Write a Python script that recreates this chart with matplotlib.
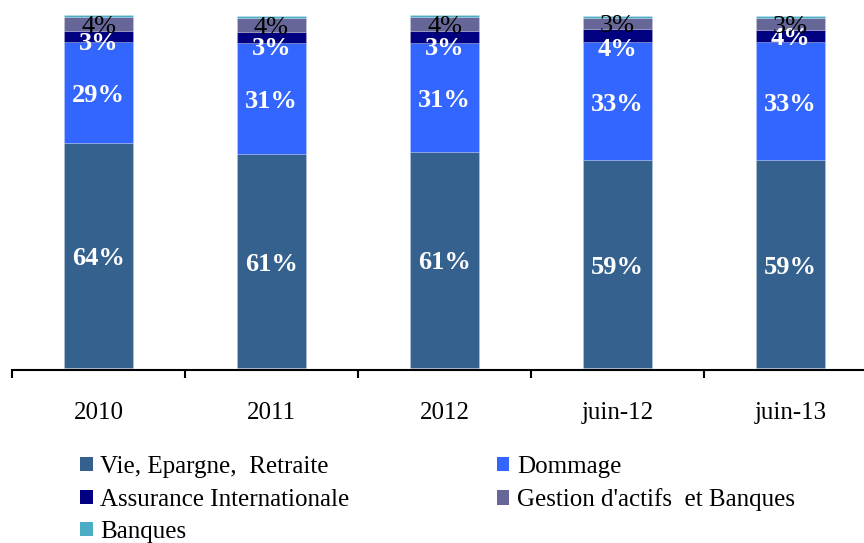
import matplotlib
matplotlib.use("Agg")
import matplotlib.pyplot as plt
from matplotlib.patches import Patch
import numpy as np

categories = ["2010", "2011", "2012", "juin-12", "juin-13"]
vie = [63.7, 60.7, 61.4, 59.0, 59.0]
dommage = [28.7, 31.4, 30.9, 33.4, 33.4]
assurance_int = [3.2, 3.2, 3.3, 3.7, 3.6]
gestion = [3.9, 4.0, 4.0, 3.3, 3.4]
banques = [0.5, 0.5, 0.5, 0.5, 0.5]

series_names = ["Vie, Epargne,  Retraite", "Dommage", "Assurance Internationale",
                "Gestion d'actifs  et Banques", "Banques"]
colors = ["#35618F", "#3366FF", "#000080", "#666699", "#4BACC6"]

# vertical offsets (pixels, downward) of the "Assurance Internationale" labels
ai_label_offset_px = [4, 8, 9, 11, 0]
label_shift_px = 3  # general downward shift of data labels

plt.rcParams['font.family'] = ['Liberation Serif', 'DejaVu Serif']

fig = plt.figure(figsize=(8.64, 5.43), dpi=100)
W, H = 864, 543
ax_left, ax_right = 12, 877
ax_bottom, ax_top = 370, 15.5
ax = fig.add_axes([ax_left / W, (H - ax_bottom) / H, (ax_right - ax_left) / W,
                   (ax_bottom - ax_top) / H])

x = np.arange(len(categories))
data = [vie, dommage, assurance_int, gestion, banques]
bottom = np.zeros(len(categories))
bars = []
for vals, col in zip(data, colors):
    ax.bar(x, vals, width=0.40, bottom=bottom, color=col,
           edgecolor=(1, 1, 1, 0.25), linewidth=0.5)
    bars.append((np.array(vals), bottom.copy()))
    bottom = bottom + np.array(vals)

fs_bar = 19
fs = 18


def put_label(i, series, color, bold, extra_px=0):
    v, b0 = bars[series][0][i], bars[series][1][i]
    ax.annotate(f"{round(v):.0f}%", (x[i], b0 + v / 2),
                xytext=(0, -(label_shift_px + extra_px) * 0.72),
                textcoords="offset points", ha="center", va="center",
                color=color, fontweight="bold" if bold else "normal",
                fontsize=fs_bar)


for i in range(len(categories)):
    put_label(i, 0, "white", True)
    put_label(i, 1, "white", True)
    put_label(i, 2, "white", True, ai_label_offset_px[i])
    put_label(i, 3, "black", False)

ax.set_xlim(-0.5, len(categories) - 0.5)
ax.set_ylim(-0.57, 100)
for s in ["top", "right", "left"]:
    ax.spines[s].set_visible(False)
ax.spines["bottom"].set_linewidth(1.5)
ax.spines["bottom"].set_color("black")
ax.set_yticks([])
ax.set_xticks(x)
ax.set_xticklabels(categories, fontsize=fs)
ax.tick_params(axis="x", which="major", length=0, pad=23)
ax.set_xticks(np.arange(-0.5, len(categories) + 0.5, 1), minor=True)
ax.tick_params(axis="x", which="minor", length=8 * 0.72, width=1.5, direction="out")

handles = [Patch(facecolor=c, edgecolor="none") for c in colors]
order = [0, 2, 4, 1, 3]
fig.legend([handles[k] for k in order], [series_names[k] for k in order],
           ncol=2, frameon=False, fontsize=fs,
           loc="upper left", bbox_to_anchor=(80 / W, 1 - 456 / H),
           handlelength=0.5, handleheight=0.5, handletextpad=0.3,
           labelspacing=0.42, columnspacing=5.9, borderaxespad=0, borderpad=0)

fig.savefig("out.png", dpi=100)
